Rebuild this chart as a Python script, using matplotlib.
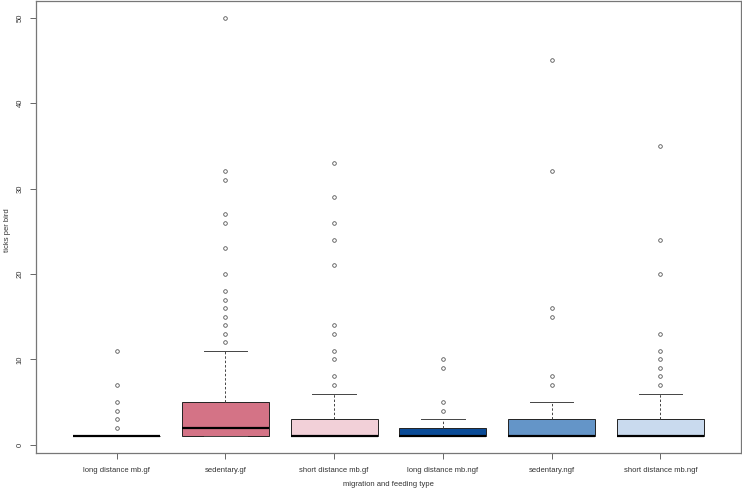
import matplotlib
matplotlib.use("Agg")
import matplotlib.pyplot as plt

plt.rcParams['font.family'] = ['Liberation Sans', 'DejaVu Sans']

# groups and box statistics
groups = ["long distance mb.gf", "sedentary.gf", "short distance mb.gf",
          "long distance mb.ngf", "sedentary.ngf", "short distance mb.ngf"]
q1 = [1, 1, 1, 1, 1, 1]
med = [1, 2, 1, 1, 1, 1]
q3 = [1, 5, 3, 2, 3, 3]
whis_lo = [1, 1, 1, 1, 1, 1]
whis_hi = [1, 11, 6, 3, 5, 6]
outliers = [
    [2, 3, 4, 5, 7, 11],
    [12, 13, 14, 15, 16, 17, 18, 20, 23, 26, 27, 31, 32, 50],
    [7, 8, 10, 11, 13, 14, 21, 24, 26, 29, 33],
    [4, 5, 9, 10],
    [7, 8, 15, 16, 32, 45],
    [7, 8, 9, 10, 11, 13, 20, 24, 35],
]
colours = ["#9e1b3c", "#d47386", "#f2d0d8", "#0a4b97", "#6495c8", "#c9daee"]

stats = []
for i in range(len(groups)):
    stats.append(dict(med=med[i], q1=q1[i], q3=q3[i], whislo=whis_lo[i],
                      whishi=whis_hi[i], fliers=outliers[i]))

fig = plt.figure(figsize=(7.42, 4.91), dpi=100)
ax = fig.add_axes([36 / 742, 38 / 491, 705 / 742, 452 / 491])

bp = ax.bxp(stats, positions=range(1, 7), widths=0.8, patch_artist=True,
            boxprops=dict(edgecolor="#222222", linewidth=0.7),
            medianprops=dict(color="black", linewidth=1.6, solid_capstyle="butt"),
            whiskerprops=dict(color="#444444", linewidth=0.7, linestyle=(0, (2.5, 2))),
            capprops=dict(color="#444444", linewidth=0.7),
            capwidths=0.4,
            flierprops=dict(marker="o", markersize=2.6, markerfacecolor="none",
                            markeredgecolor="#555555", markeredgewidth=0.6))
for patch, c in zip(bp["boxes"], colours):
    patch.set_facecolor(c)

ax.set_xlim(0.26, 6.74)
ax.set_ylim(-0.96, 51.96)
ax.set_xticks(range(1, 7))
ax.set_xticklabels(groups)
ax.set_yticks([0, 10, 20, 30, 40, 50])
ax.set_yticklabels(["0", "10", "20", "30", "40", "50"], rotation=90, va="center")
ax.tick_params(axis="both", labelsize=5.5, length=4, width=0.7, color="#666666",
               labelcolor="#333333")
ax.tick_params(axis="x", pad=6)
ax.tick_params(axis="y", pad=5)
for s in ax.spines.values():
    s.set_color("#777777")
    s.set_linewidth(0.9)

fig.text(388 / 742, 1 - 485 / 491, "migration and feeding type", ha="center",
         va="center", fontsize=5.5, color="#333333")
fig.text(8 / 742, 1 - 230 / 491, "ticks per bird", ha="center", va="center",
         rotation=90, fontsize=5.5, color="#333333")

fig.savefig("out.png", dpi=100)
